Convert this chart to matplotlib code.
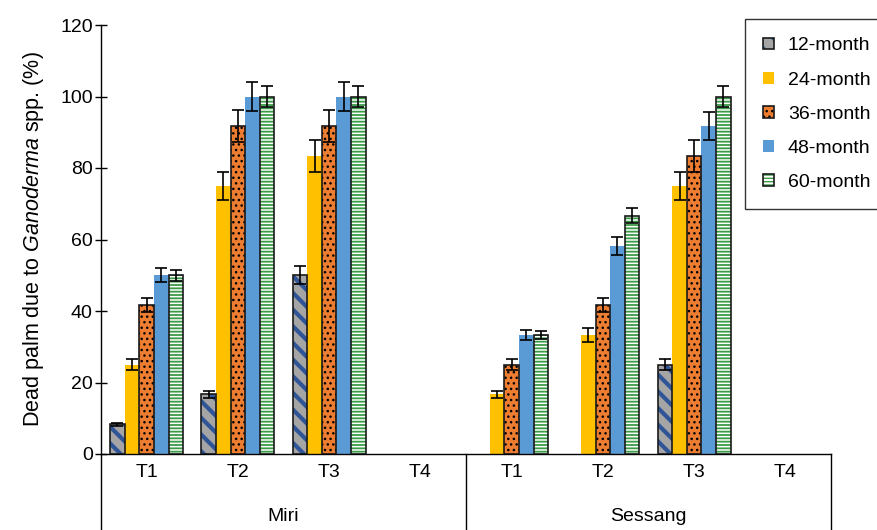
import numpy as np
import matplotlib
matplotlib.use('Agg')
import matplotlib.pyplot as plt
import matplotlib.transforms as mtransforms
from matplotlib.patches import Patch

plt.rcParams['font.family'] = ['Liberation Sans', 'DejaVu Sans']
plt.rcParams['mathtext.fontset'] = 'custom'
plt.rcParams['mathtext.it'] = 'Liberation Sans:italic'
plt.rcParams['mathtext.rm'] = 'Liberation Sans'

# ---- data ----
sites = ['Miri', 'Sessang']
treatments = ['T1', 'T2', 'T3', 'T4']
series = ['12-month', '24-month', '36-month', '48-month', '60-month']

# values per series, order: Miri T1..T4, Sessang T1..T4
m12 = [8.3, 16.7, 50.0, 0, 0, 0, 25.0, 0]
m24 = [25.0, 75.0, 83.3, 0, 16.7, 33.3, 75.0, 0]
m36 = [41.7, 91.7, 91.7, 0, 25.0, 41.7, 83.3, 0]
m48 = [50.0, 100.0, 100.0, 0, 33.3, 58.3, 91.7, 0]
m60 = [50.0, 100.0, 100.0, 0, 33.3, 66.7, 100.0, 0]

e12 = [0.5, 1.0, 2.5, 0, 0, 0, 1.5, 0]
e24 = [1.5, 4.0, 4.5, 0, 1.0, 2.0, 4.0, 0]
e36 = [2.0, 4.5, 4.5, 0, 1.5, 2.0, 4.5, 0]
e48 = [2.0, 4.0, 4.0, 0, 1.5, 2.5, 4.0, 0]
e60 = [1.5, 3.0, 3.0, 0, 1.0, 2.0, 3.0, 0]

values = [m12, m24, m36, m48, m60]
errors = [e12, e24, e36, e48, e60]

# (face, hatch colour, hatch, black outline, hatch linewidth)
styles = [
    ('#A5A5A5', '#2F5597', '\\\\', True, 3.0),
    ('#FFC000', None, None, False, 1.0),
    ('#ED7D31', 'black', '...', True, 1.0),
    ('#5B9BD5', None, None, False, 1.0),
    ('white', '#3A9A46', '-----', True, 1.3),
]

FS = 14

fig = plt.figure(figsize=(8.77, 5.30), dpi=100)
ax = fig.add_axes([101 / 877, 1 - 454 / 530, 730 / 877, 429 / 530])

x = np.arange(len(sites) * len(treatments))
w = 0.16
handles = []
for i, (vals, errs, st) in enumerate(zip(values, errors, styles)):
    face, hcol, hatch, outline, hlw = st
    vals = np.array(vals, dtype=float)
    errs = np.array(errs, dtype=float)
    keep = vals > 0
    pos = (x + (i - 2) * w)[keep]
    with plt.rc_context({'hatch.linewidth': hlw}):
        if hatch:
            ax.bar(pos, vals[keep], w, color=face, edgecolor=hcol, hatch=hatch, linewidth=0, zorder=2)
        else:
            ax.bar(pos, vals[keep], w, color=face, linewidth=0, zorder=2)
        if outline:
            ax.bar(pos, vals[keep], w, fill=False, edgecolor='#1a1a1a', linewidth=1.2, zorder=3)
        h = Patch(facecolor=face, edgecolor=hcol if hcol else face, hatch=hatch, linewidth=0)
    if outline:
        h = (h, Patch(fill=False, edgecolor='#1a1a1a', linewidth=1.2))
    handles.append(h)
    ax.errorbar(pos, vals[keep], yerr=errs[keep], fmt='none', ecolor='black', elinewidth=1.2,
                capsize=4, capthick=1.2, zorder=4)

ax.set_xlim(-0.5, len(x) - 0.5)
ax.set_ylim(0, 120)
ax.set_yticks(np.arange(0, 121, 20))
ax.tick_params(axis='y', labelsize=FS, direction='inout', length=8, width=1, pad=2)
ax.set_xticks([])
for s in ['top', 'right']:
    ax.spines[s].set_visible(False)
for s in ['left', 'bottom']:
    ax.spines[s].set_linewidth(1)

ax.set_ylabel('Dead palm due to $\\it{Ganoderma}$ spp. (%)', fontsize=15.5, labelpad=10)

trans = mtransforms.blended_transform_factory(ax.transData, ax.transAxes)
labels = treatments * len(sites)
for xi, lab in zip(x, labels):
    ax.text(xi, -0.044, lab, transform=trans, ha='center', va='center', fontsize=FS)
for k, site in enumerate(sites):
    ax.text(k * 4 + 1.5, -0.145, site, transform=trans, ha='center', va='center', fontsize=FS)
for xs in [-0.5, 3.5, 7.5]:
    ax.plot([xs, xs], [0, -0.2], transform=trans, color='black', lw=1, clip_on=False)

leg = fig.legend(handles, series, loc='upper left', bbox_to_anchor=(745 / 877, 1 - 19 / 530),
                 borderaxespad=0, fontsize=FS, frameon=True, fancybox=False,
                 handlelength=0.55, handleheight=0.55, handletextpad=0.7,
                 labelspacing=0.88, borderpad=0.95)
leg.get_frame().set_edgecolor('black')
leg.get_frame().set_linewidth(1)

fig.savefig('out.png', dpi=100)
